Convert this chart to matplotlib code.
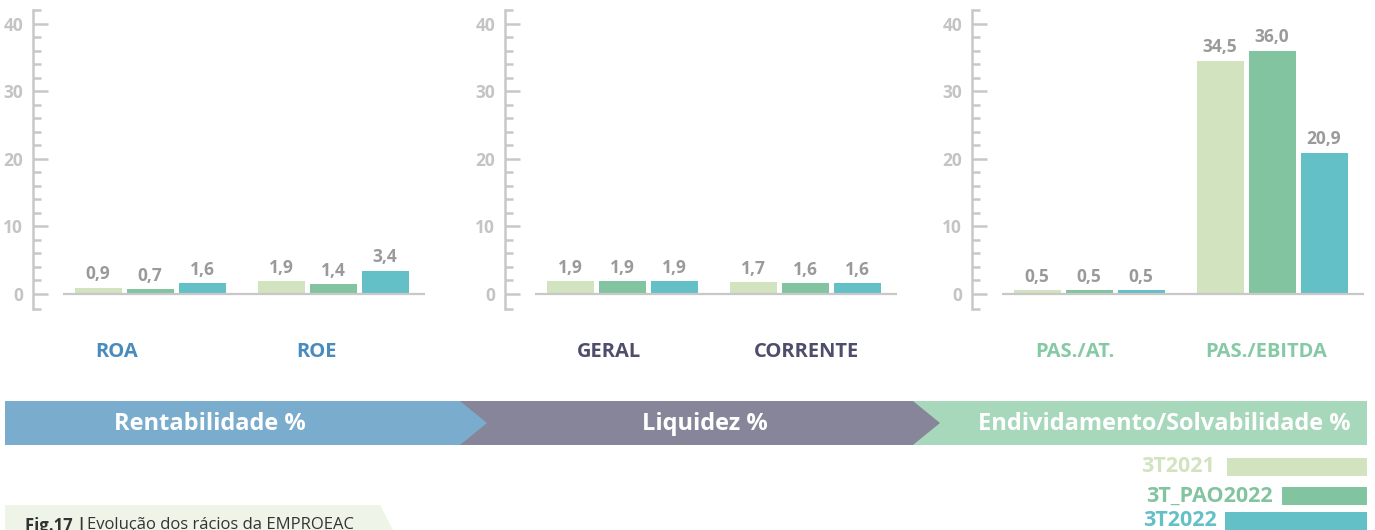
import matplotlib.pyplot as plt
from matplotlib.patches import Polygon, Rectangle
from matplotlib.ticker import MultipleLocator

plt.rcParams['font.family'] = ['Open Sans', 'DejaVu Sans']

# data
series = ['3T2021', '3T_PAO2022', '3T2022']
categories = ['ROA', 'ROE', 'GERAL', 'CORRENTE', 'PAS./AT.', 'PAS./EBITDA']
v_2021 = [0.9, 1.9, 1.9, 1.7, 0.5, 34.5]
v_pao2022 = [0.7, 1.4, 1.9, 1.6, 0.5, 36.0]
v_2022 = [1.6, 3.4, 1.9, 1.6, 0.5, 20.9]
sections = ['Rentabilidade %', 'Liquidez %', 'Endividamento/Solvabilidade %']
caption_bold = 'Fig.17 |'
caption_text = 'Evolução dos rácios da EMPROEAC'

# style
W, H = 1375, 530
series_colors = ['#d2e3bf', '#82c49f', '#62c0c6']
section_colors = ['#7aaccd', '#878599', '#a8d8bc']
cat_colors = ['#4a8bbd', '#4a8bbd', '#4f4d6c', '#4f4d6c', '#85c9a5', '#85c9a5']
axis_gray = '#c8c8c8'
value_gray = '#9a9a9a'


def fx(px):
    return px / W


fig = plt.figure(figsize=(W / 100, H / 100), dpi=100)

panel_left = [33, 505, 972]
group_center = [117, 300]
bar_step = 52
bar_w = 47
values = [v_2021, v_pao2022, v_2022]

for p in range(3):
    ax = fig.add_axes([fx(panel_left[p]), 1 - 308.6 / H, fx(400), 298.6 / H])
    ax.set_xlim(0, 400)
    ax.set_ylim(-2.2, 42)
    for g in range(2):
        k = p * 2 + g
        for s in range(3):
            x = group_center[g] + (s - 1) * bar_step
            v = values[s][k]
            ax.bar(x, v, width=bar_w, color=series_colors[s], zorder=2)
            ax.annotate(f'{v:.1f}'.replace('.', ','), (x, v), xytext=(0, 6),
                        textcoords='offset points', ha='center', va='baseline',
                        fontsize=12.5, fontweight='bold', color=value_gray)
    ax.plot([30, 392], [0, 0], color=axis_gray, lw=1.6, zorder=3,
            solid_capstyle='butt')
    for side in ['top', 'right', 'bottom']:
        ax.spines[side].set_visible(False)
    ax.spines['left'].set_color(axis_gray)
    ax.spines['left'].set_linewidth(1.8)
    ax.spines['left'].set_bounds(-2.2, 42)
    ax.yaxis.set_major_locator(MultipleLocator(10))
    ax.set_yticks([-2.2, 2, 4, 6, 8, 12, 14, 16, 18, 22, 24, 26, 28,
                   32, 34, 36, 38, 42], minor=True)
    ax.set_yticks([0, 10, 20, 30, 40])
    ax.tick_params(axis='y', which='major', direction='in', length=11,
                   width=1.8, color=axis_gray, labelcolor='#c4c4c4',
                   labelsize=12.5, pad=7)
    ax.tick_params(axis='y', which='minor', direction='in', length=6,
                   width=1.8, color=axis_gray)
    for lab in ax.get_yticklabels():
        lab.set_fontweight('bold')
    ax.set_xticks([])
    ax.patch.set_visible(False)

# decorations in pixel coordinates
deco = fig.add_axes([0, 0, 1, 1], zorder=-1)
deco.set_xlim(0, W)
deco.set_ylim(H, 0)
deco.axis('off')

cat_x = [117, 317, 609, 807, 1075, 1266]
for name, x, c in zip(categories, cat_x, cat_colors):
    deco.text(x, 352, name, ha='center', va='center', fontsize=14.5,
              fontweight='bold', color=c)

top, bot, mid = 401, 445, 423
deco.add_patch(Polygon([(913, top), (1367, top), (1367, bot), (913, bot)],
                       closed=True, color=section_colors[2], lw=0))
deco.add_patch(Polygon([(460, top), (913, top), (940, mid), (913, bot), (460, bot)],
                       closed=True, color=section_colors[1], lw=0))
deco.add_patch(Polygon([(5, top), (460, top), (487, mid), (460, bot), (5, bot)],
                       closed=True, color=section_colors[0], lw=0))
for name, x in zip(sections, [210, 705, 1164]):
    deco.text(x, mid + 1, name, ha='center', va='center', fontsize=17,
              fontweight='bold', color='white')

# legend
leg_text_right = [1215, 1273, 1217]
leg_bar_left = [1227, 1282, 1225]
leg_y = [458, 487, 512]
for name, c, tx, bx, y in zip(series, series_colors, leg_text_right,
                              leg_bar_left, leg_y):
    deco.add_patch(Rectangle((bx, y), 1367 - bx, 17.5, color=c, lw=0))
    deco.text(tx, y + 9, name, ha='right', va='center', fontsize=15.5,
              fontweight='bold', color=c)

# caption
deco.add_patch(Polygon([(5, 505), (380, 505), (393, 530), (5, 530)],
                       closed=True, color='#eef5e8', lw=0))
deco.text(25, 517, caption_bold, ha='left', va='top', fontsize=12,
          fontweight='bold', color='#333333')
deco.text(87, 517, caption_text, ha='left', va='top', fontsize=12,
          color='#333333')

fig.savefig('out.png', dpi=100)
